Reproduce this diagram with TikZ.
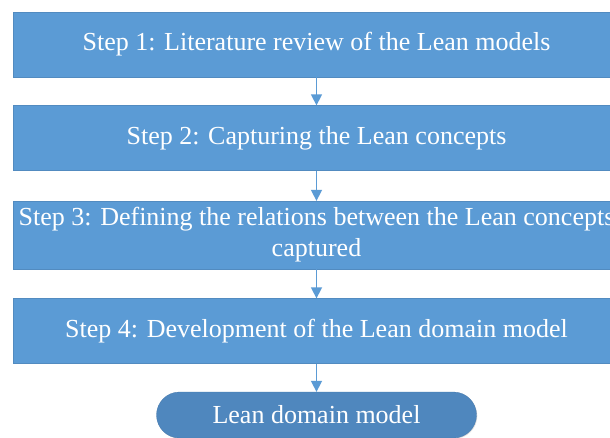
\documentclass[tikz,border=0pt]{standalone}
\usepackage{fontspec}
\setmainfont{Liberation Serif}
\usetikzlibrary{arrows.meta,shadows,shapes.misc}
\definecolor{stepblue}{HTML}{5B9BD5}
\definecolor{endblue}{HTML}{4F87BE}
\tikzset{
  stepbox/.style={rectangle, fill=stepblue, draw=stepblue!90!black, line width=0.3pt,
    minimum width=607pt, minimum height=65pt, text=white, align=center,
    font=\fontsize{26}{31}\selectfont, inner sep=0pt,
    drop shadow={shadow xshift=0.8pt, shadow yshift=-0.8pt, opacity=0.25}},
  endbox/.style={rounded rectangle, fill=endblue, draw=endblue!90!black, line width=0.3pt,
    minimum width=320pt, minimum height=46pt, text=white,
    font=\fontsize{26}{31}\selectfont, inner sep=0pt,
    drop shadow={shadow xshift=0.8pt, shadow yshift=-0.8pt, opacity=0.25}},
  flow/.style={-{Triangle[length=11pt,width=11pt]}, stepblue, line width=1.5pt}
}
\begin{document}
\begin{tikzpicture}[x=1pt,y=1pt]
\clip (0,0) rectangle (610,437);
\fill[white] (0,0) rectangle (610,437);
\node[stepbox] (step1) at (316.5,392.5) {Step 1: Literature review of the Lean models};
\node[stepbox] (step2) at (316.5,299) {Step 2: Capturing the Lean concepts};
\node[stepbox, minimum height=68pt] (step3) at (316.5,202) {Step 3: Defining the relations between the Lean concepts\\captured};
\node[stepbox] (step4) at (316.5,106) {Step 4: Development of the Lean domain model};
\node[endbox] (result) at (316.5,22) {Lean domain model};
\draw[flow] (step1) -- (step2);
\draw[flow] (step2) -- (step3);
\draw[flow] (step3) -- (step4);
\draw[flow] (step4) -- (result);
\end{tikzpicture}
\end{document}
